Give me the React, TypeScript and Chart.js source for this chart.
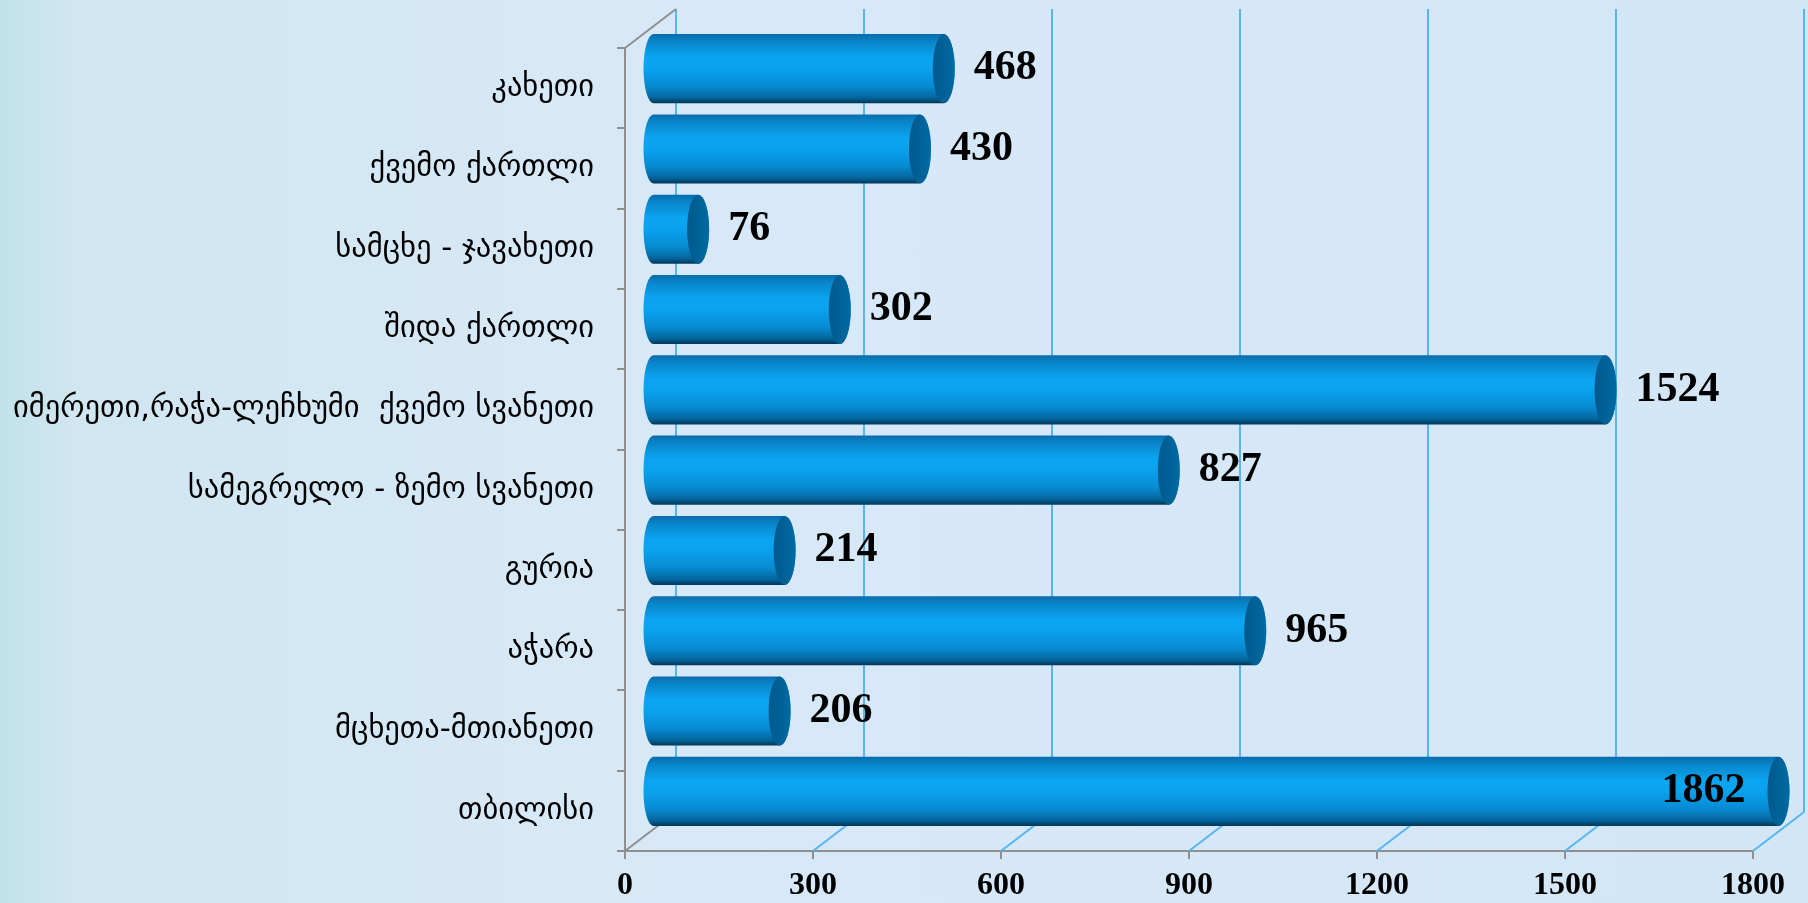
import React, { useEffect, useRef } from "react";
import { Chart, registerables } from "chart.js";

Chart.register(...registerables);

const categories: string[] = [
  "კახეთი",
  "ქვემო ქართლი",
  "სამცხე - ჯავახეთი",
  "შიდა ქართლი",
  "იმერეთი,რაჭა-ლეჩხუმი  ქვემო სვანეთი",
  "სამეგრელო - ზემო სვანეთი",
  "გურია",
  "აჭარა",
  "მცხეთა-მთიანეთი",
  "თბილისი",
];
const values: number[] = [468, 430, 76, 302, 1524, 827, 214, 965, 206, 1862];
const xMin = 0;
const xMax = 1800;
const xStep = 300;

// 3D depth offsets
const DEPTH_X = 51;
const DEPTH_Y = -39;

const threeDPlugin = {
  id: "threeD",
  beforeDatasetsDraw(chart: any) {
    const { ctx, chartArea, scales } = chart;
    const xs = scales.x;
    ctx.save();
    ctx.lineWidth = 2;
    for (let v = xMin; v <= xMax; v += xStep) {
      const px = xs.getPixelForValue(v);
      ctx.strokeStyle = "#55b6f2";
      ctx.beginPath();
      ctx.moveTo(px + DEPTH_X, chartArea.top + DEPTH_Y);
      ctx.lineTo(px + DEPTH_X, chartArea.bottom + DEPTH_Y);
      ctx.stroke();
      ctx.strokeStyle = v === xMin ? "#8f8f8f" : "#55b6f2";
      ctx.beginPath();
      ctx.moveTo(px, chartArea.bottom);
      ctx.lineTo(px + DEPTH_X, chartArea.bottom + DEPTH_Y);
      ctx.stroke();
    }
    ctx.strokeStyle = "#8f8f8f";
    ctx.beginPath();
    ctx.moveTo(chartArea.left, chartArea.top);
    ctx.lineTo(chartArea.left + DEPTH_X, chartArea.top + DEPTH_Y);
    ctx.stroke();
    ctx.restore();
  },
  afterDatasetsDraw(chart: any) {
    const { ctx, scales } = chart;
    const xs = scales.x;
    const meta = chart.getDatasetMeta(0);
    const dx = DEPTH_X / 2;
    const dy = DEPTH_Y / 2;
    ctx.save();
    meta.data.forEach((el: any, i: number) => {
      const p = el.getProps(["x", "y", "base", "height"], true);
      const clipped = values[i] > xMax;
      const x0 = p.base + dx;
      const x1 = Math.min(p.x, xs.getPixelForValue(xMax)) + dx;
      const yc = p.y + dy;
      const r = p.height / 2;
      const rx = 11;
      const g = ctx.createLinearGradient(0, yc - r, 0, yc + r);
      g.addColorStop(0, "#0a6cab");
      g.addColorStop(0.1, "#0984c8");
      g.addColorStop(0.35, "#0aa6f3");
      g.addColorStop(0.5, "#0aa2ee");
      g.addColorStop(0.75, "#078bd2");
      g.addColorStop(0.92, "#05659c");
      g.addColorStop(1, "#023658");
      ctx.beginPath();
      ctx.moveTo(x0, yc - r);
      ctx.lineTo(x1, yc - r);
      ctx.ellipse(x1, yc, rx, r, 0, -Math.PI / 2, Math.PI / 2);
      ctx.lineTo(x0, yc + r);
      ctx.ellipse(x0 + 2, yc, rx - 1, r, 0, Math.PI / 2, (3 * Math.PI) / 2);
      ctx.closePath();
      ctx.fillStyle = g;
      ctx.fill();
      const cg = ctx.createLinearGradient(x1 - rx, 0, x1 + rx, 0);
      cg.addColorStop(0, "#00598c");
      cg.addColorStop(1, "#006aa3");
      ctx.beginPath();
      ctx.ellipse(x1, yc, rx, r, 0, 0, Math.PI * 2);
      ctx.fillStyle = cg;
      ctx.fill();
      ctx.fillStyle = "#000";
      ctx.font = "bold 42px 'Liberation Serif', 'Times New Roman', serif";
      ctx.textBaseline = "middle";
      if (clipped) {
        ctx.textAlign = "right";
        ctx.fillText(String(values[i]), x1 - 33, yc);
      } else {
        ctx.textAlign = "left";
        ctx.fillText(String(values[i]), x1 + rx + 19, yc);
      }
    });
    ctx.restore();
  },
};

export default function App() {
  const ref = useRef<HTMLCanvasElement | null>(null);
  useEffect(() => {
    if (!ref.current) return;
    const chart = new Chart(ref.current, {
      type: "bar",
      data: {
        labels: categories,
        datasets: [
          {
            data: values,
            backgroundColor: "rgba(0,0,0,0)",
            borderWidth: 0,
            barPercentage: 0.86,
            categoryPercentage: 1,
          },
        ],
      },
      options: {
        indexAxis: "y",
        animation: false,
        responsive: false,
        layout: { padding: { top: 48, right: 55, left: 0, bottom: 0 } },
        plugins: { legend: { display: false }, tooltip: { enabled: false }, title: { display: false } },
        scales: {
          x: {
            min: xMin,
            max: xMax,
            afterFit: (s: any) => {
              s.height = 52;
            },
            ticks: {
              stepSize: xStep,
              padding: 8,
              color: "#000",
              callback: (v: any) => String(v),
              font: { family: "'Liberation Serif', 'Times New Roman', serif", size: 32, weight: "bold" },
            },
            grid: { drawOnChartArea: false, drawTicks: true, tickLength: 8, color: "#8f8f8f", lineWidth: 2 },
            border: { display: true, color: "#8f8f8f", width: 2 },
          },
          y: {
            afterFit: (s: any) => {
              s.width = 625;
            },
            ticks: {
              padding: 23,
              color: "#000",
              autoSkip: false,
              font: { family: "'DejaVu Sans', sans-serif", size: 30.5 },
            },
            grid: { drawOnChartArea: false, drawTicks: true, tickLength: 8, color: "#8f8f8f", lineWidth: 2 },
            border: { display: true, color: "#8f8f8f", width: 2 },
          },
        },
      },
      plugins: [threeDPlugin],
    });
    return () => chart.destroy();
  }, []);
  return (
    <div
      style={{
        position: "absolute",
        left: 0,
        top: 0,
        width: 1808,
        height: 903,
        overflow: "hidden",
        background:
          "linear-gradient(90deg, #c2e2ea 0%, #d0e6f1 4%, #d7e8f7 30%, #d6e8f8 70%, #d3e6f6 100%)",
      }}
    >
      <canvas ref={ref} width={1808} height={903} />
    </div>
  );
}
